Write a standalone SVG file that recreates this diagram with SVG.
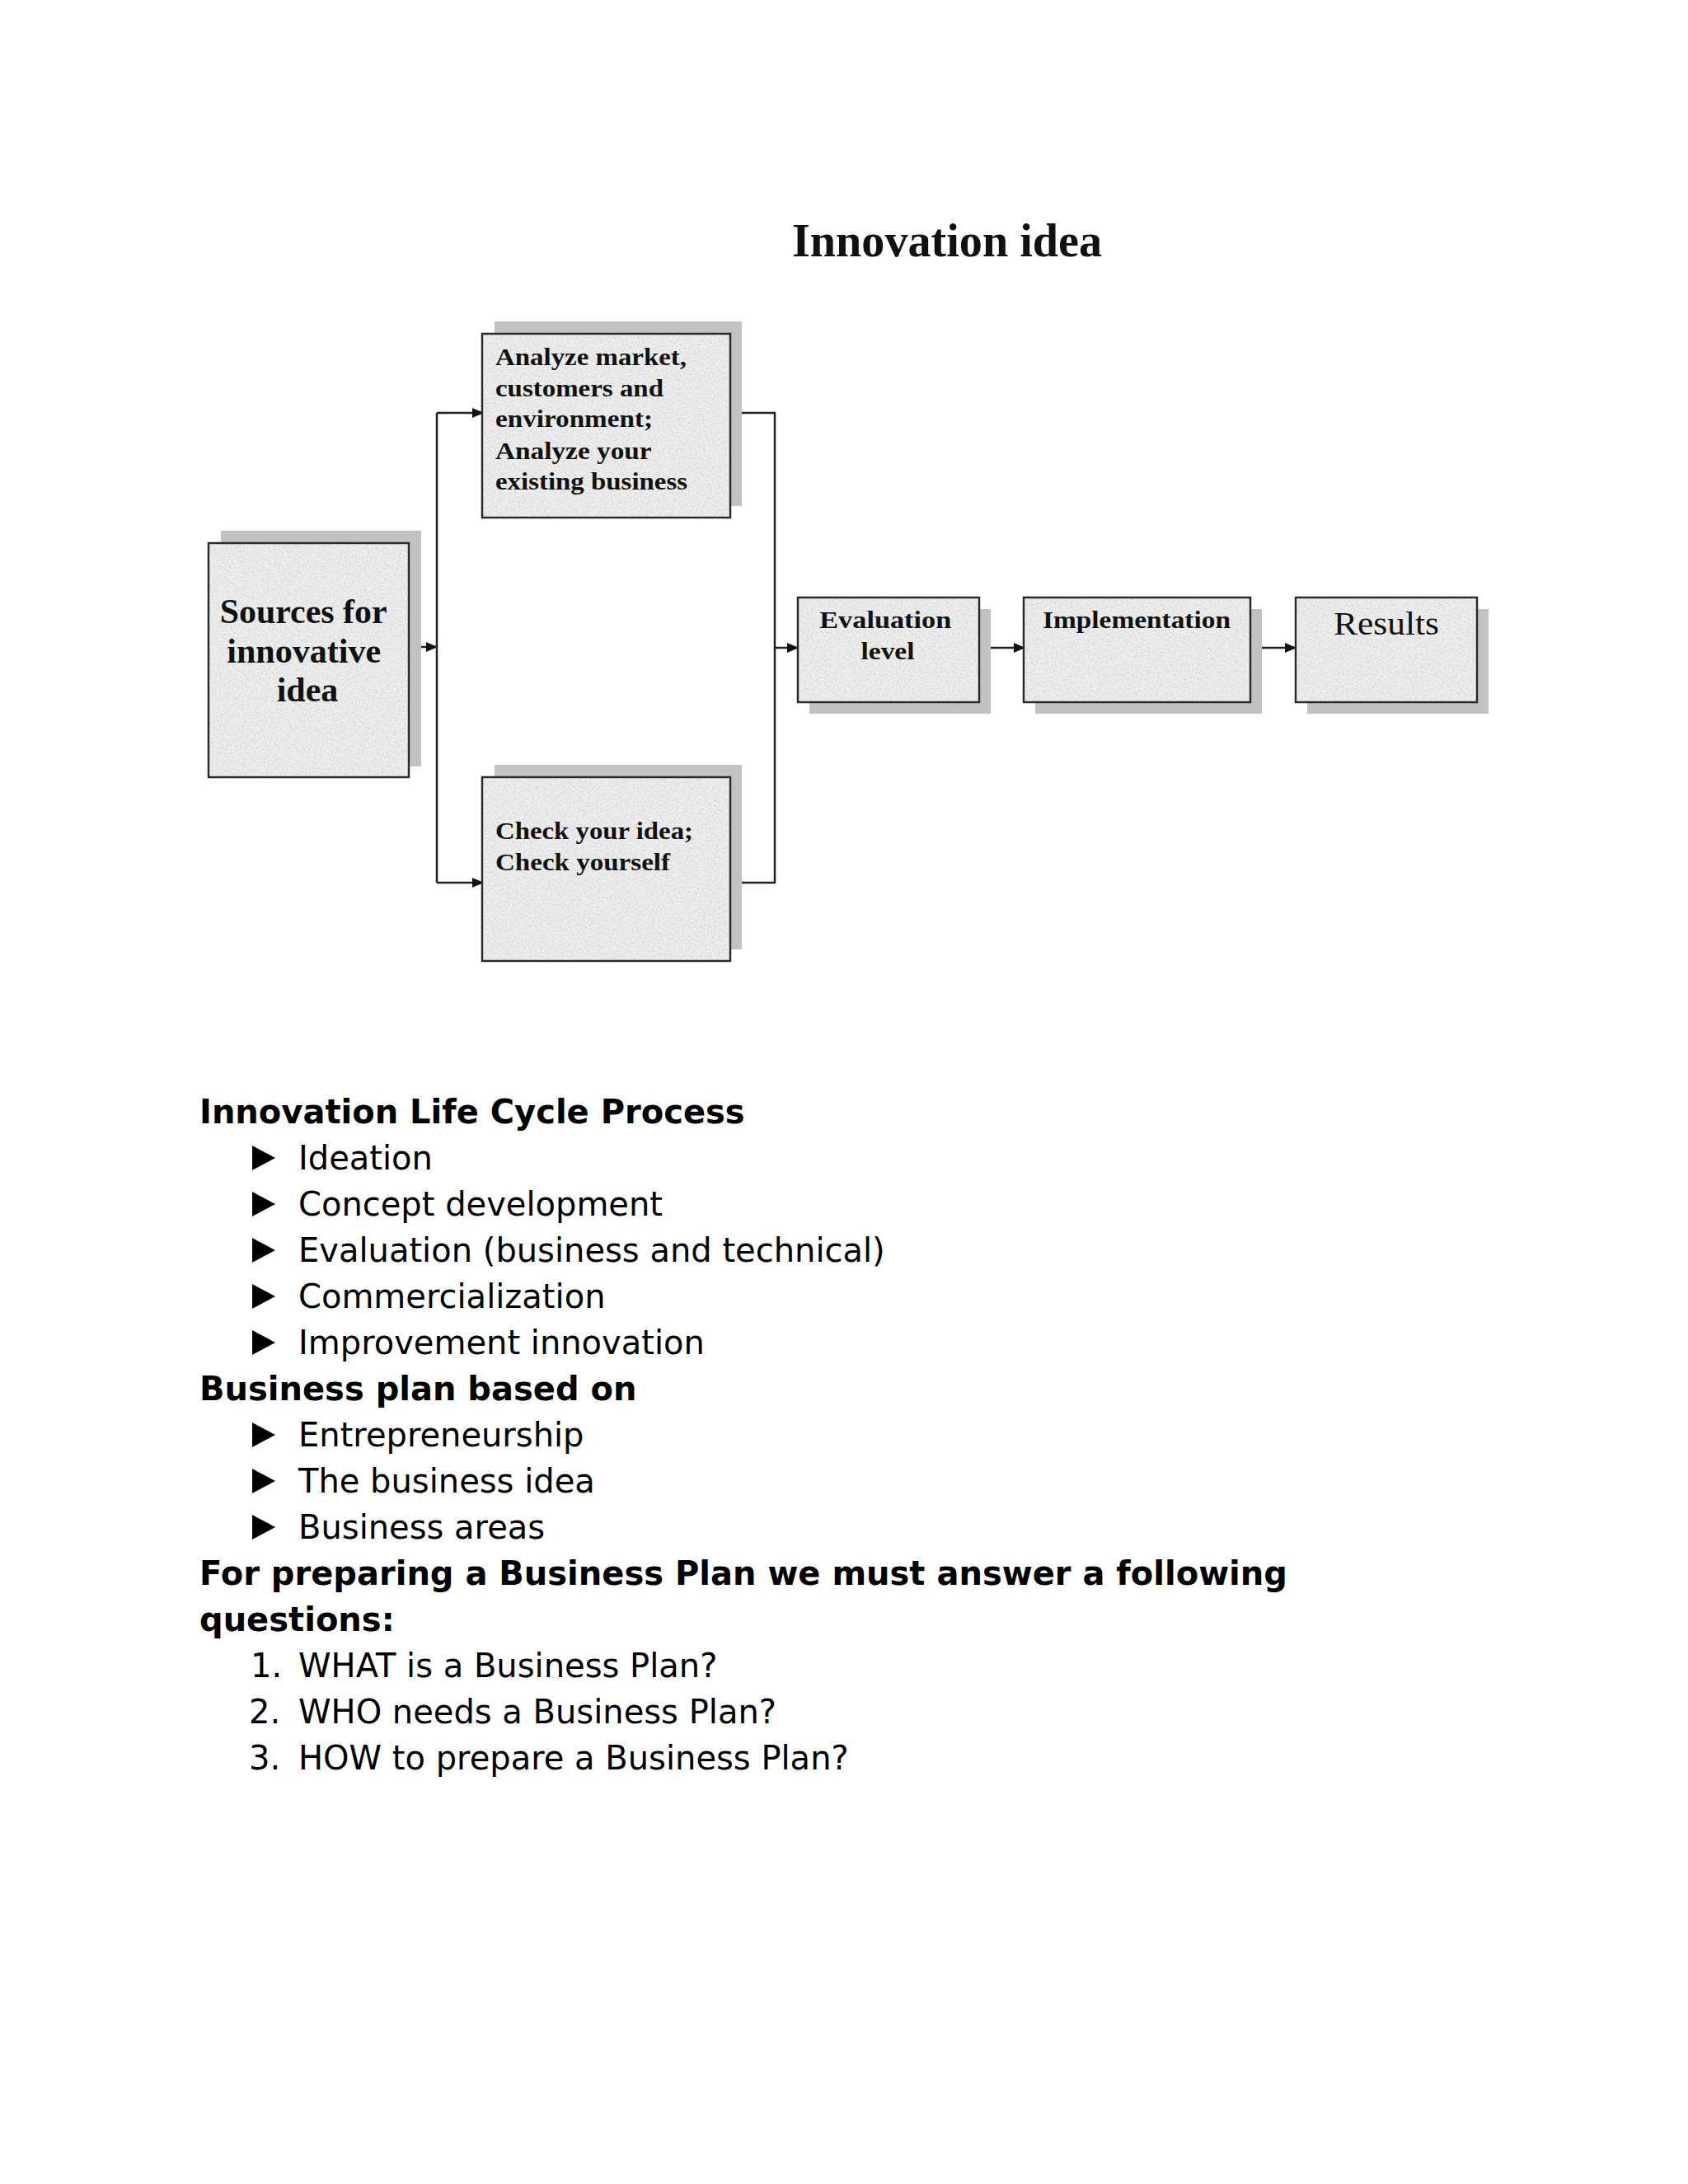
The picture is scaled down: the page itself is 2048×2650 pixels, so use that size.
<svg xmlns="http://www.w3.org/2000/svg" width="2048" height="2650" viewBox="0 0 2048 2650">
<defs>
  <filter id="granite" x="0" y="0" width="1" height="1">
    <feTurbulence type="fractalNoise" baseFrequency="0.45" numOctaves="3" seed="7"/>
    <feColorMatrix type="matrix" values="0 0 0 0 0.62  0 0 0 0 0.62  0 0 0 0 0.62  1.8 0 0 0 -0.72"/>
    <feComposite in2="SourceGraphic" operator="in"/>
  </filter>
  <marker id="arr" markerUnits="userSpaceOnUse" markerWidth="14" markerHeight="12" refX="13" refY="6" orient="auto">
    <path d="M0,0 L14,6 L0,12 z" fill="#111"/>
  </marker>
  <style>
    .shadow { fill: #c2c2c2; }
    .box { fill: #efefef; stroke: #2a2a2a; stroke-width: 2.5; }
    .tex { fill: #efefef; filter: url(#granite); }
    .bt { font-family: "Liberation Serif", "Times New Roman", serif; font-weight: bold; fill: #111; }
    .conn { fill: none; stroke: #222; stroke-width: 2.5; }
    .h { font-family: "DejaVu Sans", Verdana, sans-serif; font-weight: bold; font-size: 40px; fill: #000; }
    .t { font-family: "DejaVu Sans", Verdana, sans-serif; font-size: 40px; fill: #000; }
    .bul { fill: #000; }
  </style>
</defs>
<rect width="2048" height="2650" fill="#ffffff"/>

<text x="961" y="311" class="bt" font-size="56" textLength="376" lengthAdjust="spacingAndGlyphs">Innovation idea</text>

<g id="connectors">
  <line class="conn" x1="503" y1="785" x2="530" y2="785" marker-end="url(#arr)"/>
  <polyline class="conn" points="530,501 530,1071"/>
  <line class="conn" x1="530" y1="501" x2="586" y2="501" marker-end="url(#arr)"/>
  <line class="conn" x1="530" y1="1071" x2="586" y2="1071" marker-end="url(#arr)"/>
  <polyline class="conn" points="886,501 940,501 940,1071 886,1071"/>
  <line class="conn" x1="940" y1="786" x2="968" y2="786" marker-end="url(#arr)"/>
  <line class="conn" x1="1189" y1="786" x2="1243" y2="786" marker-end="url(#arr)"/>
  <line class="conn" x1="1518" y1="786" x2="1572" y2="786" marker-end="url(#arr)"/>
</g>

<g id="sources">
  <rect class="shadow" x="268" y="644" width="243" height="286"/>
  <rect class="box" x="253" y="659" width="243" height="284"/>
  <rect class="tex" x="254" y="660" width="241" height="282"/>
  <text class="bt" font-size="42" text-anchor="middle">
    <tspan x="373" y="756" textLength="202" lengthAdjust="spacingAndGlyphs">Sources for</tspan>
    <tspan x="374" y="804" textLength="187" lengthAdjust="spacingAndGlyphs">innovative</tspan>
    <tspan x="373" y="851">idea</tspan>
  </text>
</g>

<g id="analyze">
  <rect class="shadow" x="600" y="390" width="300" height="224"/>
  <rect class="box" x="585" y="405" width="301" height="223"/>
  <rect class="tex" x="586" y="406" width="299" height="221"/>
  <text class="bt" font-size="29">
    <tspan x="601" y="443" textLength="232" lengthAdjust="spacingAndGlyphs">Analyze market,</tspan>
    <tspan x="601" y="481" textLength="204" lengthAdjust="spacingAndGlyphs">customers and</tspan>
    <tspan x="601" y="518" textLength="191" lengthAdjust="spacingAndGlyphs">environment;</tspan>
    <tspan x="601" y="557" textLength="189" lengthAdjust="spacingAndGlyphs">Analyze your</tspan>
    <tspan x="601" y="594" textLength="233" lengthAdjust="spacingAndGlyphs">existing business</tspan>
  </text>
</g>

<g id="check">
  <rect class="shadow" x="600" y="928" width="300" height="224"/>
  <rect class="box" x="585" y="943" width="301" height="223"/>
  <rect class="tex" x="586" y="944" width="299" height="221"/>
  <text class="bt" font-size="29">
    <tspan x="601" y="1018" textLength="240" lengthAdjust="spacingAndGlyphs">Check your idea;</tspan>
    <tspan x="601" y="1056" textLength="212" lengthAdjust="spacingAndGlyphs">Check yourself</tspan>
  </text>
</g>

<g id="evaluation">
  <rect class="shadow" x="982" y="739" width="220" height="127"/>
  <rect class="box" x="968" y="725" width="220" height="127"/>
  <rect class="tex" x="969" y="726" width="218" height="125"/>
  <text class="bt" font-size="30" text-anchor="middle">
    <tspan x="1078" y="762" textLength="160" lengthAdjust="spacingAndGlyphs">Evaluation</tspan>
    <tspan x="1077" y="800" textLength="65" lengthAdjust="spacingAndGlyphs">level</tspan>
  </text>
</g>

<g id="implementation">
  <rect class="shadow" x="1256" y="739" width="275" height="127"/>
  <rect class="box" x="1242" y="725" width="275" height="127"/>
  <rect class="tex" x="1243" y="726" width="273" height="125"/>
  <text class="bt" font-size="30" text-anchor="middle" x="1379" y="762" textLength="228" lengthAdjust="spacingAndGlyphs">Implementation</text>
</g>

<g id="results">
  <rect class="shadow" x="1586" y="739" width="220" height="127"/>
  <rect class="box" x="1572" y="725" width="220" height="127"/>
  <rect class="tex" x="1573" y="726" width="218" height="125"/>
  <text class="bt" font-size="40" style="font-weight:normal" text-anchor="middle" x="1682" y="770" textLength="128" lengthAdjust="spacingAndGlyphs">Results</text>
</g>

<g id="lists">
  <text class="h" x="242" y="1363">Innovation Life Cycle Process</text>
  <polygon class="bul" points="306,1390 334,1405 306,1420"/>
  <text class="t" x="362" y="1419">Ideation</text>
  <polygon class="bul" points="306,1446 334,1461 306,1476"/>
  <text class="t" x="362" y="1475">Concept development</text>
  <polygon class="bul" points="306,1502 334,1517 306,1532"/>
  <text class="t" x="362" y="1531">Evaluation (business and technical)</text>
  <polygon class="bul" points="306,1558 334,1573 306,1588"/>
  <text class="t" x="362" y="1587">Commercialization</text>
  <polygon class="bul" points="306,1614 334,1629 306,1644"/>
  <text class="t" x="362" y="1643">Improvement innovation</text>

  <text class="h" x="242" y="1699">Business plan based on</text>
  <polygon class="bul" points="306,1726 334,1741 306,1756"/>
  <text class="t" x="362" y="1755">Entrepreneurship</text>
  <polygon class="bul" points="306,1782 334,1797 306,1812"/>
  <text class="t" x="362" y="1811">The business idea</text>
  <polygon class="bul" points="306,1838 334,1853 306,1868"/>
  <text class="t" x="362" y="1867">Business areas</text>

  <text class="h" x="242" y="1923">For preparing a Business Plan we must answer a following</text>
  <text class="h" x="242" y="1979">questions:</text>
  <text class="t" x="304" y="2035" font-size="28">1.</text>
  <text class="t" x="362" y="2035">WHAT is a Business Plan?</text>
  <text class="t" x="302" y="2091">2.</text>
  <text class="t" x="362" y="2091">WHO needs a Business Plan?</text>
  <text class="t" x="302" y="2147">3.</text>
  <text class="t" x="362" y="2147">HOW to prepare a Business Plan?</text>
</g>
</svg>
